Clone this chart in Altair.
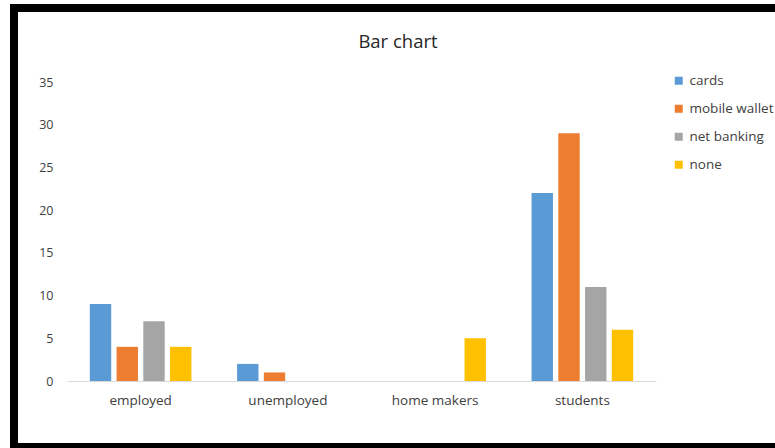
import altair as alt
import pandas as pd

# Payment method usage by occupation
groups = ["employed", "unemployed", "home makers", "students"]
methods = ["cards", "mobile wallet", "net banking", "none"]
cards = [9, 2, 0, 22]
mobile_wallet = [4, 1, 0, 29]
net_banking = [7, 0, 0, 11]
none = [4, 0, 5, 6]
y_ticks = [0, 5, 10, 15, 20, 25, 30, 35]
colors = ["#5B9BD5", "#ED7D31", "#A5A5A5", "#FFC000"]
chart_title = "Bar chart"

rows = []
for series_name, values in zip(methods, [cards, mobile_wallet, net_banking, none]):
    for g, v in zip(groups, values):
        rows.append({"group": g, "method": series_name, "count": v})
df = pd.DataFrame(rows)

FONT = "Open Sans"
TEXT_COLOR = "#404040"
W, H = 589, 299
PAD_L, PAD_T, PAD_R, PAD_B = 67, 82, 119, 67

bars = alt.Chart(df).mark_bar().encode(
    x=alt.X("group:N", sort=groups, title=None,
            scale=alt.Scale(paddingInner=0.31, paddingOuter=0.155),
            axis=alt.Axis(labelAngle=0, ticks=False, domainColor="#D9D9D9",
                          labelPadding=12, labelFontSize=13.5, labelColor=TEXT_COLOR,
                          labelFont=FONT)),
    xOffset=alt.XOffset("method:N", sort=methods,
                        scale=alt.Scale(paddingInner=0.2, paddingOuter=0)),
    y=alt.Y("count:Q", title=None,
            scale=alt.Scale(domain=[0, 35], nice=False),
            axis=alt.Axis(values=y_ticks, grid=False, domain=False, ticks=False,
                          labelPadding=14, labelFontSize=12.5, labelColor=TEXT_COLOR,
                          labelFont=FONT)),
    color=alt.Color("method:N", sort=methods,
                    scale=alt.Scale(domain=methods, range=colors),
                    legend=alt.Legend(title=None, orient="none", legendX=605, legendY=-8,
                                      symbolType="square", symbolSize=64,
                                      symbolStrokeWidth=0, labelFontSize=13.5,
                                      labelColor=TEXT_COLOR, labelFont=FONT,
                                      rowPadding=13, labelOffset=4)),
)

# Chart heading, centred over the whole chart area
title_df = pd.DataFrame({"t": [chart_title]})
heading = alt.Chart(title_df).mark_text(
    font=FONT, fontSize=18.5, color="#262626", align="center", baseline="alphabetic"
).encode(text="t:N", x=alt.value(398 - PAD_L), y=alt.value(48 - PAD_T))

# Frame around the chart (black band on top, left and bottom)
frame_df = pd.DataFrame({"k": [0]})
top_band = alt.Chart(frame_df).mark_rect(color="black", clip=False).encode(
    x=alt.value(10 - PAD_L), x2=alt.value(775 - PAD_L + 5),
    y=alt.value(4 - PAD_T), y2=alt.value(12 - PAD_T))
left_band = alt.Chart(frame_df).mark_rect(color="black", clip=False).encode(
    x=alt.value(10 - PAD_L), x2=alt.value(18 - PAD_L),
    y=alt.value(4 - PAD_T), y2=alt.value(448 - PAD_T + 5))
bottom_band = alt.Chart(frame_df).mark_rect(color="black", clip=False).encode(
    x=alt.value(10 - PAD_L), x2=alt.value(775 - PAD_L + 5),
    y=alt.value(443 - PAD_T), y2=alt.value(448 - PAD_T + 5))

chart = alt.layer(bars, heading, top_band, left_band, bottom_band).properties(
    width=W, height=H,
    autosize=alt.AutoSizeParams(type="none"),
    padding={"left": PAD_L, "top": PAD_T, "right": PAD_R, "bottom": PAD_B},
    view=alt.ViewBackground(stroke="transparent", strokeWidth=0),
).configure_view(stroke="transparent", strokeWidth=0).configure(background="white")

chart.save("out.html", embed_options={"renderer": "svg", "actions": False})
